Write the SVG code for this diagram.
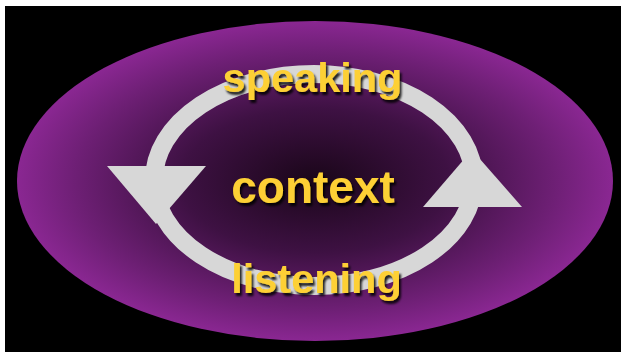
<svg xmlns="http://www.w3.org/2000/svg" width="621" height="352" viewBox="0 0 621 352">
<style>
.lbl{font-family:"Liberation Sans",Arial,sans-serif;font-weight:bold;fill:#fdd034;text-anchor:middle;filter:url(#sh)}
.ring{fill:none;stroke:#d7d7d7;stroke-width:18}
.head{fill:#d7d7d7}
</style>
<defs>
<radialGradient id="bg" cx="0.5" cy="0.5" r="0.5">
<stop offset="0" stop-color="#1a0619"/>
<stop offset="0.45" stop-color="#3e1143"/>
<stop offset="0.8" stop-color="#6d1f74"/>
<stop offset="1" stop-color="#8a2792"/>
</radialGradient>
<filter id="sh" x="-10%" y="-20%" width="130%" height="150%">
<feDropShadow dx="2" dy="3" stdDeviation="1.2" flood-color="#000" flood-opacity="0.85"/>
</filter>
</defs>
<rect x="0" y="0" width="621" height="352" fill="#fff"/>
<rect x="5" y="6" width="616" height="346" fill="#000"/>
<g id="context-area">
<ellipse cx="315" cy="181" rx="298" ry="160" fill="url(#bg)"/>
</g>
<g id="connectors">
<ellipse class="ring" cx="314" cy="180" rx="160" ry="106"/>
<polygon class="head" points="107,166 206,166 156,224"/>
<polygon class="head" points="423,207 522,207 472,150"/>
</g>
<g id="speaking"><text class="lbl" x="312.5" y="92" font-size="41.5">speaking</text></g>
<g id="context"><text class="lbl" x="313" y="203" font-size="46">context</text></g>
<g id="listening"><text class="lbl" x="316.5" y="293" font-size="41.5">listening</text></g>
</svg>
